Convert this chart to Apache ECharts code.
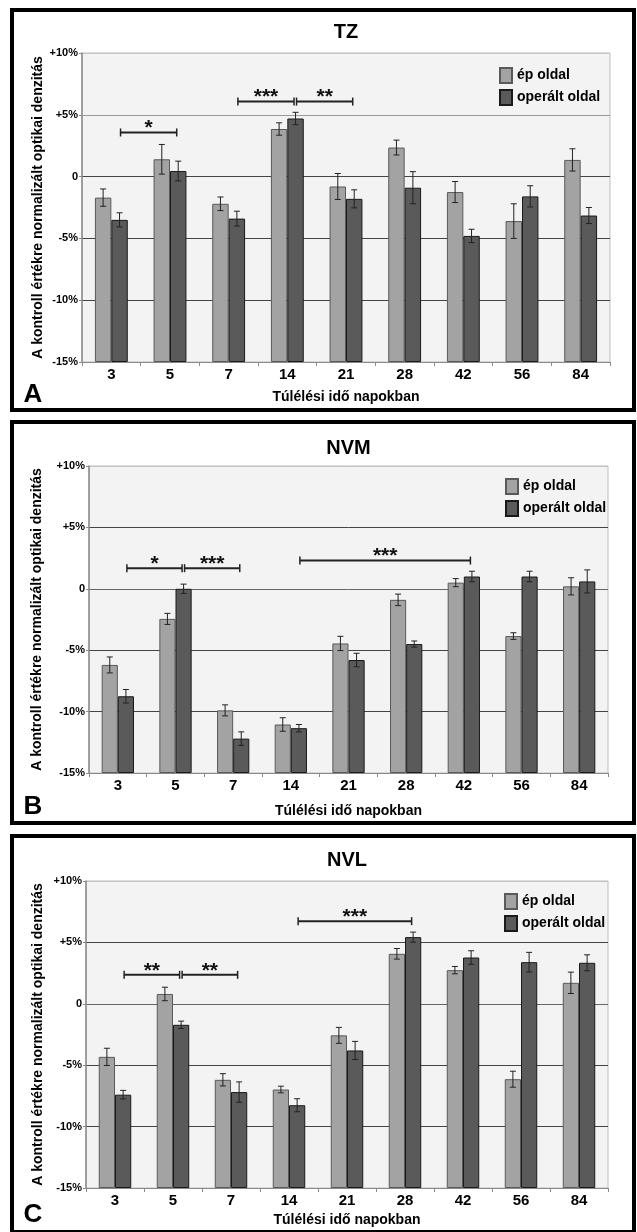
<!DOCTYPE html>
<html>
<head>
<meta charset="utf-8">
<script src="https://cdn.jsdelivr.net/npm/echarts@6/dist/echarts.min.js"></script>
<style>
html,body{margin:0;padding:0;background:#fff;}
#c{width:637px;height:1232px;}
</style>
</head>
<body>
<div id="c"></div>
<script>
// ---------- DATA ----------
const categories = ['3', '5', '7', '14', '21', '28', '42', '56', '84'];
const seriesNames = ['ép oldal', 'operált oldal'];
const yTickLabels = ['-15%', '-10%', '-5%', '0', '+5%', '+10%'];
const panelTitles = ['TZ', 'NVM', 'NVL'];
const panelLetters = ['A', 'B', 'C'];
const xTitle = 'Túlélési idő napokban';
const yTitle = 'A kontroll értékre normalizált optikai denzitás';

const tzEp     = [-1.7, 1.4, -2.2, 3.85, -0.8, 2.35, -1.25, -3.6, 1.35];
const tzEpErr  = [0.7, 1.2, 0.55, 0.5, 1.05, 0.6, 0.85, 1.4, 0.9];
const tzOp     = [-3.5, 0.45, -3.4, 4.7, -1.8, -0.9, -4.8, -1.6, -3.15];
const tzOpErr  = [0.57, 0.8, 0.6, 0.5, 0.73, 1.3, 0.54, 0.86, 0.65];

const nvmEp    = [-6.2, -2.45, -9.9, -11.05, -4.45, -0.9, 0.5, -3.85, 0.2];
const nvmEpErr = [0.65, 0.45, 0.45, 0.55, 0.58, 0.47, 0.33, 0.27, 0.7];
const nvmOp    = [-8.75, 0.0, -12.2, -11.35, -5.8, -4.5, 1.0, 1.0, 0.6];
const nvmOpErr = [0.55, 0.38, 0.55, 0.3, 0.55, 0.25, 0.43, 0.43, 0.94];

const nvlEp    = [-4.32, 0.8, -6.19, -6.98, -2.57, 4.07, 2.74, -6.14, 1.71];
const nvlEpErr = [0.7, 0.55, 0.5, 0.27, 0.65, 0.43, 0.3, 0.65, 0.87];
const nvlOp    = [-7.4, -1.71, -7.19, -8.26, -3.8, 5.43, 3.77, 3.39, 3.34];
const nvlOpErr = [0.35, 0.3, 0.83, 0.53, 0.74, 0.41, 0.55, 0.8, 0.65];

// significance brackets: [from category index, to category index, y value (%), label]
const tzBrackets  = [[0, 1, 3.57, '*'], [2, 3, 6.07, '***'], [3, 4, 6.07, '**']];
const nvmBrackets = [[0, 1, 1.68, '*'], [1, 2, 1.68, '***'], [3, 6, 2.3, '***']];
const nvlBrackets = [[0, 1, 2.36, '**'], [1, 2, 2.36, '**'], [3, 5, 6.73, '***']];

const AXIS_MIN = -15, AXIS_MAX = 10, AXIS_STEP = 5;

// ---------- LAYOUT ----------
const FONT = '"Liberation Sans", Arial, sans-serif';
const panels = [
  { ep: tzEp, epErr: tzEpErr, op: tzOp, opErr: tzOpErr, br: tzBrackets,
    grid: { left: 82, right: 27, top: 53, height: 309 },
    box: [12, 10, 622, 400], titleY: 32, letterY: 395, xTitleY: 397, yTitleX: 38,
    legend: { left: 494, top: 62 },
    split: ['#555', '#444', '#444', '#444', '#9a9a9a', '#c4c4c4'] },
  { ep: nvmEp, epErr: nvmEpErr, op: nvmOp, opErr: nvmOpErr, br: nvmBrackets,
    grid: { left: 89, right: 29, top: 466, height: 307 },
    box: [12, 422, 622, 401], titleY: 448, letterY: 807, xTitleY: 811, yTitleX: 37,
    legend: { left: 500, top: 473 },
    split: ['#555', '#444', '#444', '#666', '#444', '#c4c4c4'] },
  { ep: nvlEp, epErr: nvlEpErr, op: nvlOp, opErr: nvlOpErr, br: nvlBrackets,
    grid: { left: 86, right: 29, top: 881, height: 307 },
    box: [12, 836, 622, 396], titleY: 860, letterY: 1215, xTitleY: 1220, yTitleX: 38,
    legend: { left: 499, top: 888 },
    split: ['#555', '#444', '#444', '#666', '#444', '#c4c4c4'] }
];

const EP_STYLE = { color: '#a3a3a3', borderColor: '#5a5a5a', borderWidth: 1 };
const OP_STYLE = { color: '#5a5a5a', borderColor: '#1a1a1a', borderWidth: 1 };
const BAR_GAP_CAT = 0.44;
const HALF_OFF = (1 - BAR_GAP_CAT) / 4; // offset of each bar centre from category centre (in band units)

function shift(v) { return v - AXIS_MIN; }

function errRender(side) {
  return function (params, api) {
    const i = api.value(0), v = api.value(1), e = api.value(2);
    const band = api.size([1, 0])[0];
    const x = api.coord([i, v])[0] + side * HALF_OFF * band;
    const yHi = api.coord([i, v + e])[1];
    const yLo = api.coord([i, v - e])[1];
    const cap = 3;
    const st = { stroke: '#222', lineWidth: 1 };
    return { type: 'group', children: [
      { type: 'line', shape: { x1: x, y1: yHi, x2: x, y2: yLo }, style: st },
      { type: 'line', shape: { x1: x - cap, y1: yHi, x2: x + cap, y2: yHi }, style: st },
      { type: 'line', shape: { x1: x - cap, y1: yLo, x2: x + cap, y2: yLo }, style: st }
    ]};
  };
}

function bracketRender(list) {
  return function (params, api) {
    const a = api.value(0), b = api.value(1), y = api.value(2);
    const band = api.size([1, 0])[0];
    const p1 = api.coord([a, y]), p2 = api.coord([b, y]);
    const x1 = p1[0] + HALF_OFF * band + 1;
    const x2 = p2[0] + HALF_OFF * band - 1.5;
    const yy = p1[1];
    const st = { stroke: '#222', lineWidth: 2 };
    const st1 = { stroke: '#222', lineWidth: 1.5 };
    return { type: 'group', children: [
      { type: 'line', shape: { x1: x1, y1: yy, x2: x2, y2: yy }, style: st },
      { type: 'line', shape: { x1: x1, y1: yy - 4, x2: x1, y2: yy + 4 }, style: st1 },
      { type: 'line', shape: { x1: x2, y1: yy - 4, x2: x2, y2: yy + 4 }, style: st1 },
      { type: 'text', x: (x1 + x2) / 2, y: yy - 4, style: {
          text: list[params.dataIndex][3], fill: '#111', font: 'bold 21px ' + FONT,
          textAlign: 'center', textVerticalAlign: 'middle' } }
    ]};
  };
}

const option = {
  animation: false,
  backgroundColor: '#fff',
  grid: [], xAxis: [], yAxis: [], series: [], legend: [], graphic: []
};

panels.forEach((p, k) => {
  option.grid.push(Object.assign({ show: true, backgroundColor: '#f3f3f3', borderColor: '#bdbdbd', borderWidth: 1 }, p.grid));
  option.xAxis.push({
    type: 'category', gridIndex: k, data: categories,
    axisLine: { lineStyle: { color: '#8a8a8a', width: 1 } },
    axisTick: { show: true, length: 4, lineStyle: { color: '#8a8a8a' } },
    axisLabel: { color: '#000', fontSize: 15, fontWeight: 'bold', fontFamily: FONT, margin: 5 },
    splitLine: { show: false }
  });
  option.yAxis.push({
    type: 'value', gridIndex: k, min: 0, max: AXIS_MAX - AXIS_MIN, interval: AXIS_STEP,
    axisLine: { show: true, lineStyle: { color: '#8a8a8a', width: 1.5 } },
    axisTick: { show: true, length: 3, lineStyle: { color: '#8a8a8a' } },
    axisLabel: { color: '#000', fontSize: 11, fontWeight: 'bold', fontFamily: FONT, margin: 4,
      formatter: v => yTickLabels[Math.round(v / AXIS_STEP)] },
    splitLine: { show: true, lineStyle: { color: p.split, width: 1 } }
  });
  option.series.push({
    name: seriesNames[0], type: 'bar', xAxisIndex: k, yAxisIndex: k,
    data: p.ep.map(shift), barGap: '0%', barCategoryGap: (BAR_GAP_CAT * 100) + '%',
    itemStyle: EP_STYLE, z: 2
  });
  option.series.push({
    name: seriesNames[1], type: 'bar', xAxisIndex: k, yAxisIndex: k,
    data: p.op.map(shift), barGap: '0%', barCategoryGap: (BAR_GAP_CAT * 100) + '%',
    itemStyle: OP_STYLE, z: 2
  });
  option.series.push({
    type: 'custom', xAxisIndex: k, yAxisIndex: k, z: 5,
    encode: { x: 0, y: 1 },
    data: p.ep.map((v, i) => [i, shift(v), p.epErr[i]]),
    renderItem: errRender(-1)
  });
  option.series.push({
    type: 'custom', xAxisIndex: k, yAxisIndex: k, z: 5,
    encode: { x: 0, y: 1 },
    data: p.op.map((v, i) => [i, shift(v), p.opErr[i]]),
    renderItem: errRender(1)
  });
  option.series.push({
    type: 'custom', xAxisIndex: k, yAxisIndex: k, z: 6,
    encode: { x: [0, 1], y: 2 },
    data: p.br.map(b => [b[0], b[1], shift(b[2])]),
    renderItem: bracketRender(p.br)
  });
  option.legend.push({
    left: p.legend.left, top: p.legend.top, orient: 'vertical',
    itemWidth: 12, itemHeight: 15, itemGap: 5, selectedMode: false,
    icon: 'rect',
    textStyle: { fontSize: 14, fontWeight: 'bold', color: '#000', fontFamily: FONT },
    data: seriesNames
  });
  const cx = p.grid.left + (637 - p.grid.left - p.grid.right) / 2;
  const gTop = p.grid.top, gBot = p.grid.top + p.grid.height;
  option.graphic.push(
    { type: 'rect', shape: { x: p.box[0], y: p.box[1], width: p.box[2], height: p.box[3] },
      style: { fill: 'none', stroke: '#000', lineWidth: 4 }, z: 10 },
    { type: 'text', x: cx, y: p.titleY, style: { text: panelTitles[k], font: 'bold 20px ' + FONT,
      fill: '#000', textAlign: 'center', textVerticalAlign: 'middle' } },
    { type: 'text', x: 33, y: p.letterY, style: { text: panelLetters[k], font: 'bold 26px ' + FONT,
      fill: '#000', textAlign: 'center', textVerticalAlign: 'middle' } },
    { type: 'text', x: cx, y: p.xTitleY, style: { text: xTitle, font: 'bold 14px ' + FONT,
      fill: '#000', textAlign: 'center', textVerticalAlign: 'middle' } },
    { type: 'text', x: p.yTitleX, y: (gTop + gBot) / 2, rotation: Math.PI / 2,
      style: { text: yTitle, font: 'bold 14px ' + FONT, fill: '#000',
      textAlign: 'center', textVerticalAlign: 'middle' } }
  );
});

const chart = echarts.init(document.getElementById('c'), null, { renderer: 'canvas' });
chart.setOption(option);
</script>
</body>
</html>
